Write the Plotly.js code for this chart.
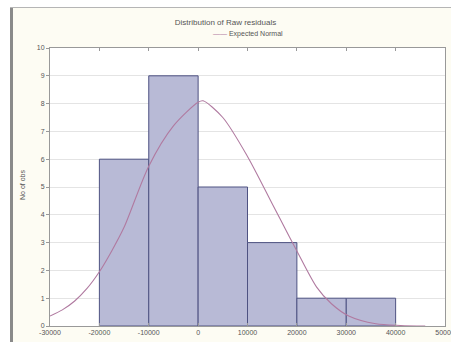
<!DOCTYPE html>
<html><head><meta charset="utf-8">
<script src="https://cdn.plot.ly/plotly-3.0.1.min.js"></script>
<style>html,body{margin:0;padding:0;background:#fff}</style>
</head><body>
<div id="chart" style="width:451px;height:342px"></div>
<script>
// Histogram bins (bin centers), counts
var binCenters = [-15000, -5000, 5000, 15000, 25000, 35000];
var counts = [6, 9, 5, 3, 1, 1];
var binWidth = [10000, 10000, 10000, 10000, 10000, 10000];
// Expected normal curve
var curveX = [-30000, -27500, -25000, -22500, -20000, -17500, -15000, -10000, -5000, 0, 1000, 5000, 10000, 15000, 18500, 20000, 24000, 27000, 30500, 36000, 41000, 46000];
var curveY = [0.36, 0.58, 0.9, 1.35, 1.95, 2.7, 3.55, 5.75, 7.2, 8.05, 8.1, 7.5, 6.1, 4.4, 3.2, 2.7, 1.4, 0.8, 0.36, 0.08, 0.02, 0.0];
var xTicks = [-30000, -20000, -10000, 0, 10000, 20000, 30000, 40000, 50000];
var yTicks = [0, 1, 2, 3, 4, 5, 6, 7, 8, 9, 10];

var traces = [
  {type: 'bar', x: binCenters, y: counts, width: binWidth,
   marker: {color: 'rgb(184,186,214)', line: {color: 'rgb(78,82,130)', width: 1}},
   hoverinfo: 'none', showlegend: false},
  {type: 'scatter', mode: 'lines', x: curveX, y: curveY,
   line: {color: 'rgb(176,122,160)', width: 1.1, shape: 'spline', smoothing: 0.8},
   hoverinfo: 'none', showlegend: false}
];

function px(p){return (p-50)/395;}
function py(p){return (326-p)/278;}

var layout = {
  width: 451, height: 342,
  margin: {l: 50, r: 6, t: 48, b: 16, pad: 0},
  paper_bgcolor: 'rgb(253,252,243)',
  plot_bgcolor: '#ffffff',
  font: {family: 'Liberation Sans, Arial, sans-serif', size: 7, color: '#555'},
  title: {text: 'Distribution of Raw residuals', font: {size: 8, color: '#555'},
          x: 0.5, xanchor: 'center', y: 1 - 22/342, yanchor: 'middle'},
  bargap: 0,
  xaxis: {range: [-30000, 50000], tickvals: xTicks, ticktext: xTicks.map(String),
          ticklabeloverflow: 'allow',
          showgrid: false, zeroline: false, showline: true, linecolor: '#999', linewidth: 1,
          mirror: 'ticks', ticks: 'inside', ticklen: 3, tickcolor: '#999',
          tickfont: {size: 7, color: '#555'}},
  yaxis: {range: [0, 10], tickvals: yTicks, showgrid: true, gridcolor: '#e4e4e4',
          zeroline: false, showline: true, linecolor: '#999', linewidth: 1,
          mirror: true, ticks: 'outside', ticklen: 3, tickcolor: '#999',
          tickfont: {size: 7, color: '#555'}},
  annotations: [
    {text: '<span style="color:rgb(176,122,160)">——</span> Expected Normal', xref: 'paper', yref: 'paper',
     x: 0.5, y: py(34), xanchor: 'center', yanchor: 'middle', showarrow: false,
     font: {size: 7, color: '#555'}},
    {text: 'No of obs', xref: 'paper', yref: 'paper', x: px(22), y: py(185),
     xanchor: 'center', yanchor: 'middle', textangle: -90, showarrow: false,
     font: {size: 7, color: '#555'}}
  ],
  shapes: [
    {type: 'rect', xref: 'paper', yref: 'paper', x0: px(-5), x1: px(10), y0: py(350), y1: py(-5),
     fillcolor: '#ffffff', line: {width: 0}},
    {type: 'rect', xref: 'paper', yref: 'paper', x0: px(-5), x1: px(460), y0: py(7), y1: py(-5),
     fillcolor: '#ffffff', line: {width: 0}},
    {type: 'line', xref: 'paper', yref: 'paper', x0: px(11.5), x1: px(11.5), y0: py(350), y1: py(7),
     line: {color: '#8a8a8a', width: 3}},
    {type: 'line', xref: 'paper', yref: 'paper', x0: px(10), x1: px(460), y0: py(7.5), y1: py(7.5),
     line: {color: '#b5b5b5', width: 1}}
  ]
};
Plotly.newPlot('chart', traces, layout, {displayModeBar: false, staticPlot: true});
</script>
</body></html>
